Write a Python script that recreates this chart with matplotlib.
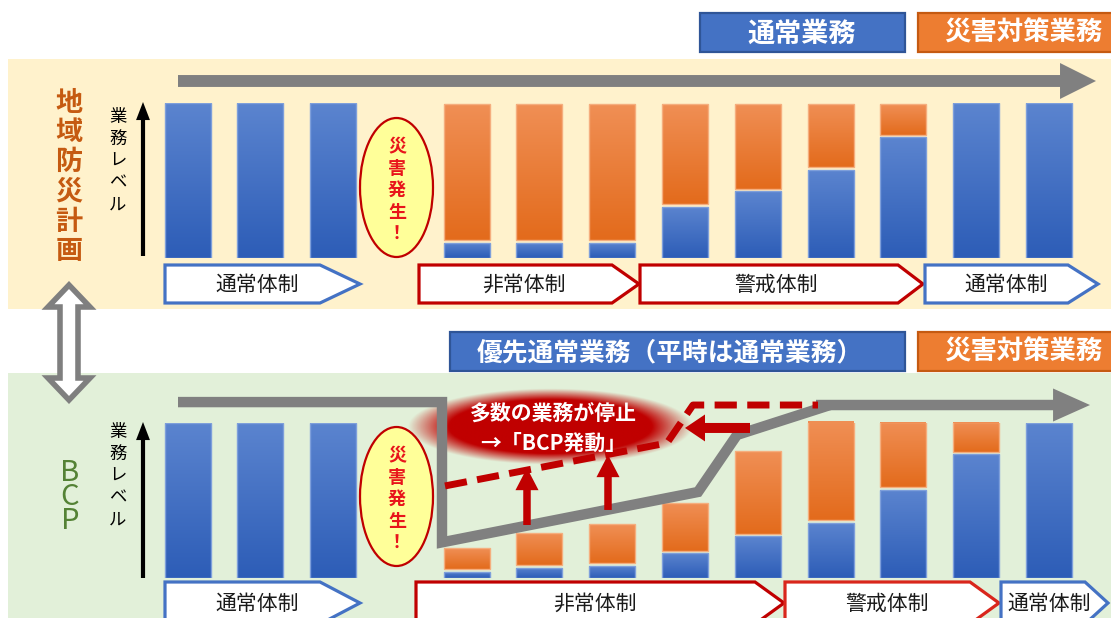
import numpy as np
import matplotlib
matplotlib.use('Agg')
import matplotlib.pyplot as plt
from matplotlib.patches import Rectangle, Polygon, Ellipse
from matplotlib.colors import LinearSegmentedColormap, to_rgb

plt.rcParams['font.family'] = ['Noto Sans CJK JP', 'DejaVu Sans']

# ---------------- data ----------------
# business level (0-100) of each time step, 12 steps
plan_routine = [100, 100, 100, 10, 10, 10, 33, 43, 57, 78, 100, 100]
plan_disaster = [0, 0, 0, 88, 88, 88, 65, 55, 41, 20, 0, 0]
bcp_routine = [100, 100, 100, 4, 6.5, 8, 16, 27, 35.5, 57, 80, 100]
bcp_disaster = [0, 0, 0, 13.5, 21, 25, 31, 53.5, 64, 42, 19, 0]

# trend lines in the BCP panel (x on the time axis in px, y in business level)
bcp_cap_x = [178, 442, 442, 698, 737, 830]
bcp_cap_level = [113.5, 113.5, 23, 55.5, 92.3, 111.6]
bcp_target_x = [445, 667, 693, 818]
bcp_target_level = [59.4, 87.1, 111.6, 111.6]

legend_routine = '通常業務'
legend_priority = '優先通常業務（平時は通常業務）'
legend_disaster = '災害対策業務'
panel_titles = ['地域防災計画', 'BCP']
ylabel = '業務レベル'
event_label = '災害発生！'
plan_phases = ['通常体制', '非常体制', '警戒体制', '通常体制']
bcp_phases = ['通常体制', '非常体制', '警戒体制', '通常体制']
callout = '多数の業務が停止\n→「BCP発動」'

# ---------------- styles ----------------
W, H = 1111, 618
BLUE_T, BLUE_B = '#5B84CF', '#2D5DB7'
ORG_T, ORG_B = '#F08F55', '#E36B1C'
RED = '#C00000'
GREY = '#808080'

fig = plt.figure(figsize=(W / 100, H / 100), dpi=100)
bg = fig.add_axes([0, 0, 1, 1])
bg.set_xlim(0, W)
bg.set_ylim(H, 0)
bg.axis('off')

# panel backgrounds
bg.add_patch(Rectangle((8, 59), W - 8, 250, fc='#FFF2CC', ec='none', zorder=0))
bg.add_patch(Rectangle((8, 373), W - 8, 250, fc='#E2F0D9', ec='none', zorder=0))


def label_box(x0, x1, y0, y1, fc, ec, text, tx, fs):
    bg.add_patch(Rectangle((x0, y0), x1 - x0, y1 - y0, fc=fc, ec=ec, lw=1.6, zorder=2))
    bg.text(tx, (y0 + y1) / 2 + 1, text, color='white', fontsize=fs, fontweight='bold',
            ha='center', va='center', zorder=3)


label_box(700, 905, 13, 52, '#4472C4', '#2F5597', legend_routine, 802, 19.5)
label_box(918, 1125, 13, 52, '#ED7D31', '#C55A11', legend_disaster, 1023, 19)
label_box(450, 905, 332, 371, '#4472C4', '#2F5597', legend_priority, 670, 18.5)
label_box(918, 1125, 332, 371, '#ED7D31', '#C55A11', legend_disaster, 1023, 19)

# panel titles
bg.text(69, 177, '\n'.join(panel_titles[0]), color='#C55A11', fontsize=19.5, fontweight='bold',
        ha='center', va='center', linespacing=1.08)
bg.text(70, 497, '\n'.join(panel_titles[1]), color='#548235', fontsize=21,
        ha='center', va='center', linespacing=0.76)

# y labels and arrows
for yc, ya, yb in [(161, 256, 102), (476, 578, 422)]:
    bg.text(118, yc, '\n'.join(ylabel), color='black', fontsize=12.5, ha='center', va='center',
            linespacing=1.27)
    bg.annotate('', xy=(143, yb), xytext=(143, ya),
                arrowprops=dict(arrowstyle='simple,head_length=0.65,head_width=0.5,tail_width=0.15',
                                mutation_scale=20, fc='black', ec='none', shrinkA=0, shrinkB=0))

# disaster ellipses
for yc in (187.5, 496.5):
    bg.add_patch(Ellipse((396.5, yc), 73, 139, fc='#FFFF99', ec=RED, lw=1.6, zorder=2))
    bg.text(397, yc + 3, '\n'.join(event_label), color='#E8141B', fontsize=13, fontweight='bold',
            ha='center', va='center', linespacing=1.2, zorder=3)


# phase pentagons
def pentagon(x0, x1, tip, y0, y1, color, text):
    pts = [(x0, y0), (x1, y0), (tip, (y0 + y1) / 2), (x1, y1), (x0, y1)]
    bg.add_patch(Polygon(pts, closed=True, fc='white', ec=color, lw=2.3, joinstyle='miter', zorder=2))
    bg.text((x0 + tip) / 2 - 5, (y0 + y1) / 2 + 1, text, color='#1a1a1a', fontsize=15,
            ha='center', va='center', zorder=3)


BL = '#4472C4'
for (x0, x1, tip), col, name in zip([(165, 320, 360), (419, 612, 639), (640, 898, 923), (925, 1068, 1098)],
                                    [BL, RED, RED, BL], plan_phases):
    pentagon(x0, x1, tip, 265, 303, col, name)
for (x0, x1, tip), col, name in zip([(165, 320, 360), (416, 755, 784), (785, 970, 999), (1001, 1085, 1108)],
                                    [BL, RED, '#D9261C', BL], bcp_phases):
    pentagon(x0, x1, tip, 582, 624, col, name)

# double hollow arrow between panels
dbl = [(69, 285), (90, 307), (78, 307), (78, 378), (90, 378), (69, 400), (48, 378), (60, 378),
       (60, 307), (48, 307)]
bg.add_patch(Polygon(dbl, closed=True, fc='white', ec='#7F7F7F', lw=4, joinstyle='miter', zorder=3))

# callout glow
cx, cy, a, b = 550, 427, 127, 34
xs = np.linspace(cx - a * 1.3, cx + a * 1.3, 500)
ys = np.linspace(cy - b * 1.6, cy + b * 1.6, 220)
X, Y = np.meshgrid(xs, ys)
r = np.sqrt(((X - cx) / a) ** 2 + ((Y - cy) / b) ** 2)
alpha = np.clip((1.12 - r) / 0.32, 0, 1)
rgba = np.zeros(X.shape + (4,))
rgba[..., :3] = to_rgb(RED)
rgba[..., 3] = alpha
bg.imshow(rgba, extent=[xs[0], xs[-1], ys[-1], ys[0]], aspect='auto', zorder=1, interpolation='bilinear')
bg.set_xlim(0, W)
bg.set_ylim(H, 0)

# ---------------- bar panels ----------------
bar_x = np.r_[187.5 + 72.6 * np.arange(3), 466.5 + 72.8 * np.arange(9)]
BW = 46
GAP = 1.6


def grad_bars(ax, x, h, bottom, ctop, cbot, edge):
    bars = ax.bar(x, h, width=BW, bottom=bottom, facecolor='none', edgecolor=edge, linewidth=1.0, zorder=3)
    cmap = LinearSegmentedColormap.from_list('g', [cbot, ctop])
    for p in bars:
        if p.get_height() <= 0:
            p.set_visible(False)
            continue
        x0, y0 = p.get_x(), p.get_y()
        im = ax.imshow(np.linspace(0, 1, 100).reshape(-1, 1),
                       extent=[x0, x0 + p.get_width(), y0, y0 + p.get_height()],
                       origin='lower', cmap=cmap, aspect='auto', interpolation='bilinear', zorder=2)
        im.set_clip_path(p)


def make_bar_axes(top_px, routine, disaster):
    ax = fig.add_axes([0, 1 - (top_px + 155) / H, 1, 155 / H])
    ax.axis('off')
    routine = np.asarray(routine, float)
    disaster = np.asarray(disaster, float)
    grad_bars(ax, bar_x, routine, 0, BLUE_T, BLUE_B, '#7E9FDB')
    grad_bars(ax, bar_x, disaster, routine + GAP, ORG_T, ORG_B, '#F5AE7E')
    ax.set_xlim(0, W)
    ax.set_ylim(0, 100)
    return ax


ax_t = make_bar_axes(103, plan_routine, plan_disaster)
ax_b = make_bar_axes(423, bcp_routine, bcp_disaster)

# top timeline arrow
ax_t.annotate('', xy=(1096, 114.2), xytext=(178, 114.2), annotation_clip=False,
              arrowprops=dict(arrowstyle='simple,head_length=0.74,head_width=0.74,tail_width=0.245',
                              mutation_scale=35, fc=GREY, ec='none', shrinkA=0, shrinkB=0))

# BCP capacity line
ax_b.plot(bcp_cap_x, bcp_cap_level, color=GREY, lw=7.5, solid_joinstyle='miter',
          solid_capstyle='butt', clip_on=False, zorder=4)
ax_b.annotate('', xy=(1090, bcp_cap_level[-1]), xytext=(bcp_cap_x[-1] - 14, bcp_cap_level[-1]),
              annotation_clip=False,
              arrowprops=dict(arrowstyle='simple,head_length=0.76,head_width=0.68,tail_width=0.215',
                              mutation_scale=35, fc=GREY, ec='none', shrinkA=0, shrinkB=0), zorder=4)

# target (dashed) line
ax_b.plot(bcp_target_x, bcp_target_level, color=RED, lw=5, dashes=(3.2, 1.5),
          clip_on=False, zorder=5)

# red arrows
red_arrow = dict(arrowstyle='simple,head_length=0.8,head_width=0.83,tail_width=0.27',
                 mutation_scale=20, fc=RED, ec='none', shrinkA=0, shrinkB=0)
ax_b.annotate('', xy=(527, 71), xytext=(527, 34.2), annotation_clip=False, arrowprops=red_arrow, zorder=6)
ax_b.annotate('', xy=(608, 79.4), xytext=(608, 43.9), annotation_clip=False, arrowprops=red_arrow, zorder=6)
ax_b.annotate('', xy=(685, 96.8), xytext=(750, 96.8), annotation_clip=False, zorder=6,
              arrowprops=dict(arrowstyle='simple,head_length=0.72,head_width=0.97,tail_width=0.36',
                              mutation_scale=20, fc=RED, ec='none', shrinkA=0, shrinkB=0))

# callout text
ax_b.text(553, 428, callout, transform=bg.transData, color='white', fontsize=15, fontweight='bold',
          ha='center', va='center', linespacing=1.55, zorder=10)

fig.savefig('out.png', dpi=100)
